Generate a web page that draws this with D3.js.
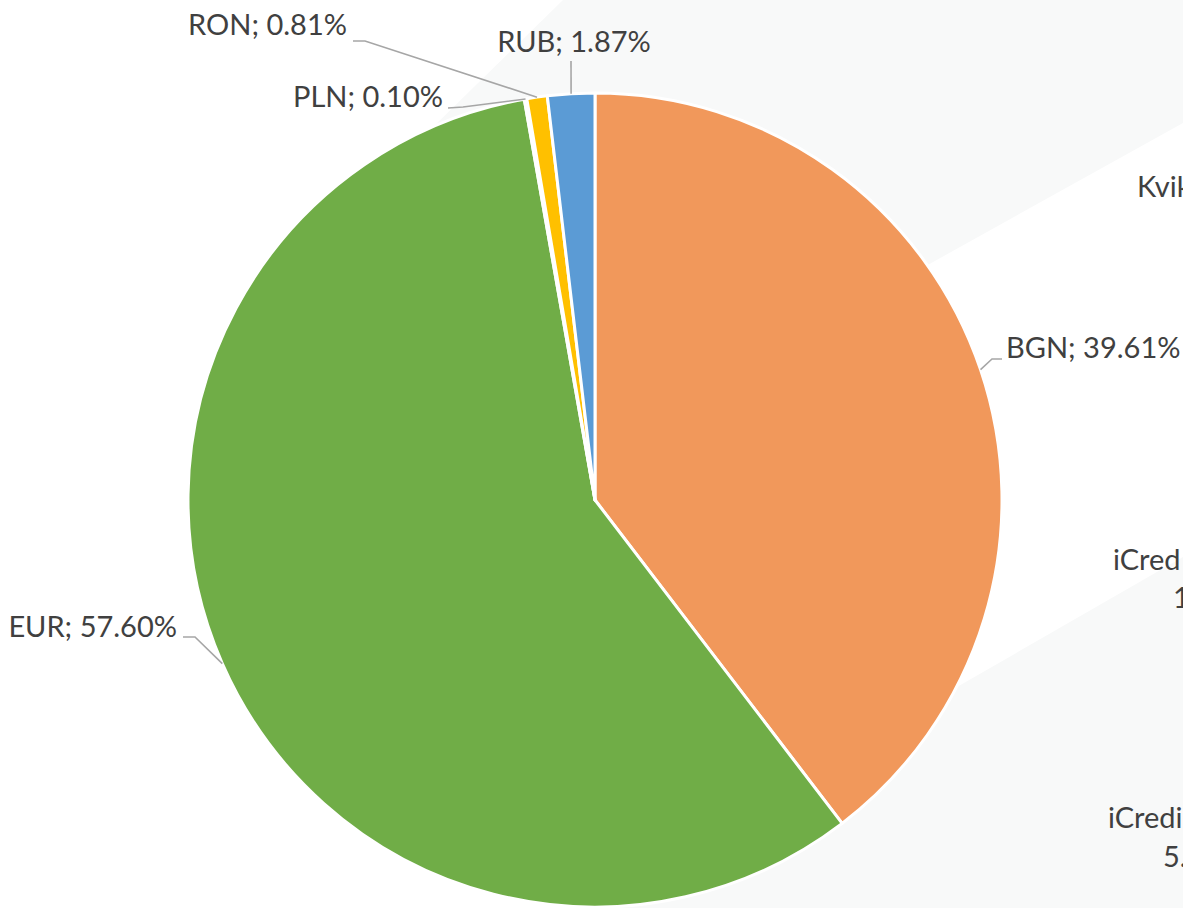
<!DOCTYPE html>
<html>
<head>
<meta charset="utf-8">
<script src="https://cdn.jsdelivr.net/npm/d3@7"></script>
<style>
  body { margin: 0; background: #ffffff; }
  text { font-family: Lato, "Liberation Sans", sans-serif; fill: #404040; }
</style>
</head>
<body>
<div id="chart"></div>
<script>
// currency share of the portfolio
var currencies = ["BGN", "EUR", "PLN", "RON", "RUB"];
var shares = [39.61, 57.60, 0.10, 0.81, 1.87];
var colors = ["#F1985B", "#70AD47", "#A5A5A5", "#FFC000", "#5B9BD5"];

// cut-off labels from the neighbouring chart on the right
var ghostLabels = ["Kvik", "iCred", "1", "iCredi", "5."];

// label layout: elbow of the leader line and where the text sits
var labelLayout = [
  { elbow: [992, 359], end: [1002, 359], tx: 1006, ty: 358, anchor: "start" },
  { elbow: [195, 637], end: [183, 637], tx: 177, ty: 637, anchor: "end" },
  { elbow: [463, 107], end: [448, 108], tx: 443, ty: 107, anchor: "end" },
  { elbow: [365, 41], end: [353, 41], tx: 347, ty: 35, anchor: "end" },
  { elbow: [571, 61], end: [571, 61], tx: 574, ty: 52, anchor: "middle" }
];
var ghostLayout = [
  { x: 1137, y: 197 }, { x: 1113, y: 570 }, { x: 1173, y: 608 },
  { x: 1108, y: 828 }, { x: 1163, y: 867 }
];

var width = 1183, height = 908;
var cx = 595, cy = 500, radius = 407;

var svg = d3.select("#chart").append("svg")
  .attr("width", width)
  .attr("height", height);

// faint background shapes
svg.append("polygon")
  .attr("points", "563,0 1183,0 1183,123 595,450 430,130")
  .attr("fill", "#F8F9F9");
svg.append("polygon")
  .attr("points", "1183,557 957,687 400,1007 1183,1007")
  .attr("fill", "#F8F9F9");

svg.selectAll(".ghost")
  .data(ghostLabels)
  .enter()
  .append("text")
  .attr("class", "ghost")
  .attr("x", function (d, i) { return ghostLayout[i].x; })
  .attr("y", function (d, i) { return ghostLayout[i].y; })
  .style("font-size", "29px")
  .text(function (d) { return d; });

var data = currencies.map(function (c, i) { return { name: c, value: shares[i], color: colors[i] }; });

var pie = d3.pie()
  .value(function (d) { return d.value; })
  .sort(null);

var arc = d3.arc()
  .innerRadius(0)
  .outerRadius(radius);

var g = svg.append("g")
  .attr("transform", "translate(" + cx + "," + cy + ")");

var arcs = pie(data);

g.selectAll("path")
  .data(arcs)
  .enter()
  .append("path")
  .attr("d", arc)
  .attr("fill", function (d) { return d.data.color; })
  .attr("stroke", "#ffffff")
  .attr("stroke-width", 3)
  .attr("stroke-linejoin", "round");

// leader lines start on the rim at each slice's middle angle
function rimPoint(d) {
  var a = (d.startAngle + d.endAngle) / 2;
  return [cx + radius * Math.sin(a), cy - radius * Math.cos(a)];
}

svg.selectAll(".leader")
  .data(arcs)
  .enter()
  .append("polyline")
  .attr("class", "leader")
  .attr("points", function (d, i) {
    var p = rimPoint(d), L = labelLayout[i];
    return [p, L.elbow, L.end].map(function (q) { return q.join(","); }).join(" ");
  })
  .attr("fill", "none")
  .attr("stroke", "#A6A6A6")
  .attr("stroke-width", 1.6);

svg.selectAll(".label")
  .data(arcs)
  .enter()
  .append("text")
  .attr("class", "label")
  .attr("x", function (d, i) { return labelLayout[i].tx; })
  .attr("y", function (d, i) { return labelLayout[i].ty; })
  .attr("text-anchor", function (d, i) { return labelLayout[i].anchor; })
  .style("font-size", "29px")
  .text(function (d) { return d.data.name + "; " + d.data.value.toFixed(2) + "%"; });
</script>
</body>
</html>
